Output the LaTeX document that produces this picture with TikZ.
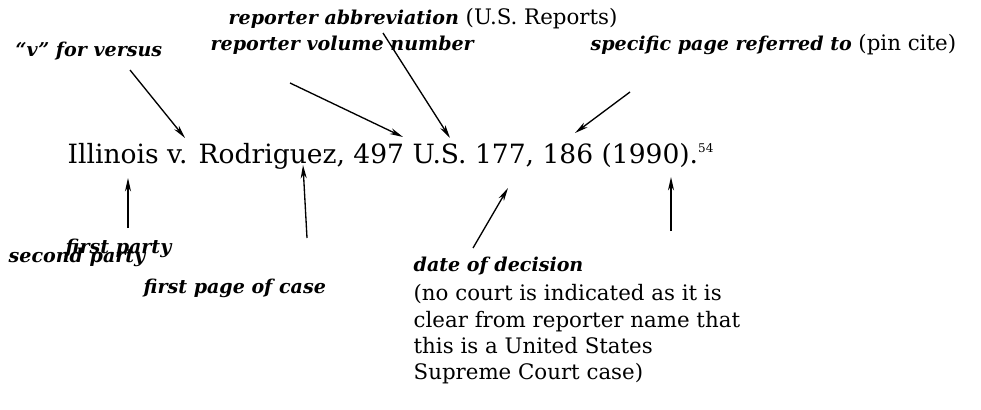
\documentclass[tikz,border=0pt]{standalone}
\usepackage{fontspec}
\setmainfont{DejaVu Serif}
\usetikzlibrary{positioning,arrows.meta}
\newcommand{\parenfont}{\fontsize{16}{19.7}\selectfont\mdseries\upshape}

\begin{document}
\begin{tikzpicture}[x=0.75pt, y=-0.75pt, >={Stealth[length=10pt,width=4.5pt,inset=3pt]}, line width=1pt,
    lbl/.style={font=\fontsize{14.3}{16}\selectfont\bfseries\itshape, inner sep=0pt, anchor=base west},
    note/.style={font=\fontsize{16}{19.7}\selectfont, inner sep=0pt, anchor=north west, align=left}]
  \useasboundingbox (0,0) rectangle (981,410);

  % the citation itself
  \node (cite) [font=\fontsize{19.9}{25}\selectfont, inner sep=0pt, anchor=base west] at (67,163)
    {Illinois v. Rodriguez, 497 U.S. 177, 186 (1990).\textsuperscript{\fontsize{9}{9}\selectfont 54}};

  % labels above
  \node (vs)   [lbl] at (15,57)  {``v'' for versus};
  \node (abbr) [lbl] at (228,25) {reporter abbreviation {\parenfont (U.S.\ Reports)}};
  \node (vol)  [lbl] at (210,51) {reporter volume number};
  \node (pin)  [lbl] at (590,51) {specific page referred to {\parenfont (pin cite)}};

  % labels below
  \node (first)  [lbl] at (65,253)  {first party};
  \node (second) [lbl] at (8,262)   {second party};
  \node (page)   [lbl] at (143,293) {first page of case};
  \node (date)   [lbl] at (413,271) {date of decision};
  \node (court)  [note] at (413,284)
    {(no court is indicated as it is\\clear from reporter name that\\this is a United States\\Supreme Court case)};

  % arrow tips on the citation
  \coordinate (vsTip)    at (185,138);
  \coordinate (volTip)   at (403,137);
  \coordinate (abbrTip)  at (450,138);
  \coordinate (pinTip)   at (575,133);
  \coordinate (partyTip) at (128,178);
  \coordinate (pageTip)  at (303,165);
  \coordinate (dateTip)  at (508,188);
  \coordinate (yearTip)  at (671,177);
  \coordinate (yearTail) at (671,231);

  \draw[->] (130,70) coordinate (vsTail) -- (vsTip);
  \draw[->] (290,83) coordinate (volTail) -- (volTip);
  \draw[->] (383,33) coordinate (abbrTail) -- (abbrTip);
  \draw[->] (630,92) coordinate (pinTail) -- (pinTip);
  \draw[->] (128,228) coordinate (partyTail) -- (partyTip);
  \draw[->] (307,238) coordinate (pageTail) -- (pageTip);
  \draw[->] (473,248) coordinate (dateTail) -- (dateTip);
  \draw[->] (yearTail) -- (yearTip);
\end{tikzpicture}
\end{document}
